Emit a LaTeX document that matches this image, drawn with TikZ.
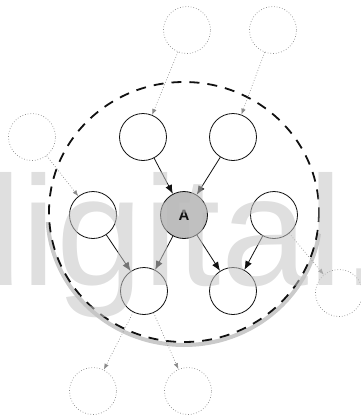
\documentclass[tikz,border=0pt]{standalone}
\usepackage{fontspec}
\setmainfont{Liberation Sans}
\usetikzlibrary{arrows.meta,positioning}
\definecolor{mbInk}{HTML}{111111}
\definecolor{mbCore}{HTML}{BDBDBD}
\definecolor{mbFaint}{HTML}{8A8A8A}
\definecolor{mbHalo}{HTML}{CACACA}
\definecolor{mbMark}{HTML}{C4C4C4}
\tikzset{
  mbnode/.style={circle,draw=mbInk,line width=0.8pt,minimum size=47pt,inner sep=0pt},
  mbcore/.style={mbnode,fill=mbCore,text=mbInk,font=\bfseries\fontsize{15}{15}\selectfont},
  mbouter/.style={circle,draw=mbFaint,dotted,line width=0.7pt,minimum size=47pt,inner sep=0pt},
  mblink/.style={-{Latex[length=9pt,width=7pt]},draw=mbInk,line width=0.8pt},
  mbfaint/.style={-{Latex[length=6pt,width=4.5pt]},draw=mbFaint,dotted,line width=0.7pt},
  mbblanket/.style={draw=mbInk,line width=1.8pt,dash pattern=on 10pt off 8pt},
  mbhalo/.style={draw=mbHalo,line width=4pt},
  mbmark/.style={anchor=base west,inner sep=0pt,text=mbMark,opacity=0.55,font=\fontsize{156}{156}\selectfont}
}

\begin{document}
\begin{tikzpicture}[x=1pt,y=-1pt,on grid]
\useasboundingbox (0,0) rectangle (361,418);
\clip (0,0) rectangle (361,418);

% ---- MANTO (blanket) ----
\begin{scope}
  \clip (0,222) -- (290,222) -- (361,250) -- (361,418) -- (0,418) -- cycle;
  \draw[mbhalo] (184,214) ellipse [x radius=136.5,y radius=131];
\end{scope}
\draw[mbblanket] (184,212) ellipse [x radius=135,y radius=130];

% ---- NODO CENTRAL ----
\node[mbcore] (a) at (184,215) {A};

% ---- PADRES, HIJOS Y COPADRES ----
\node[mbnode, above left=78pt and 41pt of a] (p1) {};
\node[mbnode, above right=78pt and 49pt of a] (p2) {};
\node[mbnode, left=91pt of a] (l) {};
\node[mbnode, right=90pt of a] (r) {};
\node[mbnode, below left=76pt and 40pt of a] (c1) {};
\node[mbnode, below right=76pt and 49pt of a] (c2) {};

\draw[mblink] (p1) -- (a);
\draw[mblink] (p2) -- (a);
\draw[mblink] (l) -- (c1);
\draw[mblink] (a) -- (c1);
\draw[mblink] (a) -- (c2);
\draw[mblink] (r) -- (c2);

% ---- FUERA DEL MANTO ----
\node[mbouter, above right=107pt and 44pt of p1] (t1) {};
\node[mbouter, above right=107pt and 40pt of p2] (t2) {};
\node[mbouter, above left=78pt and 61pt of l] (lo) {};
\node[mbouter, below right=78pt and 65pt of r] (ro) {};
\node[mbouter, below left=100pt and 51pt of c1] (b1) {};
\node[mbouter, below right=100pt and 44pt of c1] (b2) {};

\draw[mbfaint] (t1) -- (p1);
\draw[mbfaint] (t2) -- (p2);
\draw[mbfaint] (lo) -- (l);
\draw[mbfaint] (r) -- (ro);
\draw[mbfaint] (c1) -- (b1);
\draw[mbfaint] (c1) -- (b2);

% ---- MARCA DE AGUA ----
\node[mbmark] (wm) at (-65,285) {digital.};

\end{tikzpicture}
\end{document}
